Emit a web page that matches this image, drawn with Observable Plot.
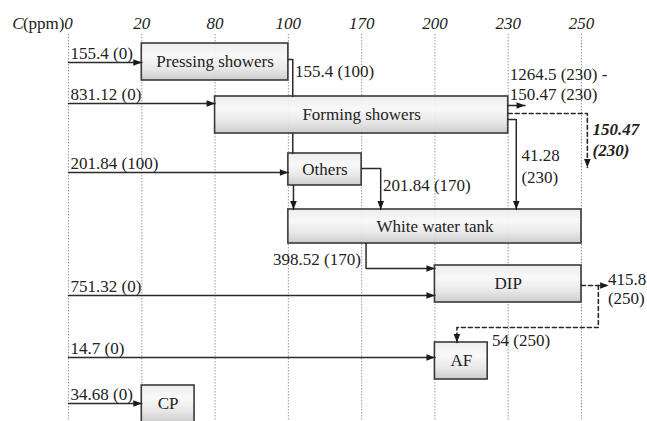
<!DOCTYPE html>
<html><head><meta charset="utf-8">
<script src="https://cdn.jsdelivr.net/npm/d3@7"></script>
<script src="https://cdn.jsdelivr.net/npm/@observablehq/plot@0.6"></script>
<style>
html,body{margin:0;padding:0;background:#fff;}
#chart svg{display:block;}
</style>
</head><body><div id="chart"></div>
<script>
// ---------------- data ----------------
const concTicks = [0, 20, 80, 100, 170, 200, 230, 250];
const unitNames = ["Pressing showers", "Forming showers", "Others", "White water tank", "DIP", "AF", "CP"];
const unitCin  = [20, 80, 100, 100, 200, 200, 20];
const unitCout = [100, 230, 170, 250, 250, null, null];
const freshFlow = [155.4, 831.12, 201.84, 751.32, 14.7, 34.68];
const freshConc = [0, 0, 100, 0, 0, 0];
const freshTarget = ["Pressing showers", "Forming showers", "Others", "DIP", "AF", "CP"];
const streamLabels = ["155.4 (100)", "201.84 (170)", "41.28\n(230)", "1264.5 (230) -\n150.47 (230)",
                      "150.47\n(230)", "398.52 (170)", "415.8\n(250)", "54 (250)"];

// ---------------- layout (diagram rows / offsets) ----------------
const ci = c => concTicks.indexOf(c);
const unitTop    = [43, 96, 153, 209, 265, 342, 385];
const unitBottom = [80, 133, 185, 243, 302, 379, 422];
const smallBoxWidth = 0.72;
const freshY = [62, 103, 172, 295, 357, 403];

const connectors = [
  {dash: false, arrow: false, pts: [[ci(100), 59], [ci(100) + 0.06, 59], [ci(100) + 0.06, 96]]},
  {dash: false, arrow: false, pts: [[ci(100) + 0.06, 133], [ci(100) + 0.06, 153]]},
  {dash: false, arrow: true,  pts: [[ci(100) + 0.07, 185], [ci(100) + 0.07, 209]]},
  {dash: false, arrow: true,  pts: [[ci(170), 168], [ci(170) + 0.26, 168], [ci(170) + 0.26, 209]]},
  {dash: false, arrow: true,  pts: [[ci(230), 119], [ci(230) + 0.11, 119], [ci(230) + 0.11, 209]]},
  {dash: false, arrow: true,  pts: [[ci(230), 105], [ci(230) + 0.23, 105]]},
  {dash: true,  arrow: true,  pts: [[ci(230), 113], [ci(250) + 0.08, 113], [ci(250) + 0.08, 167]]},
  {dash: false, arrow: true,  pts: [[ci(170) + 0.06, 243], [ci(170) + 0.06, 268], [ci(200), 268]]},
  {dash: true,  arrow: true,  pts: [[ci(250), 285], [ci(250) + 0.37, 285]]},
  {dash: true,  arrow: true,  pts: [[ci(250) + 0.23, 285], [ci(250) + 0.23, 327], [ci(200) + 0.3, 327], [ci(200) + 0.3, 342]]}
];
// fresh water inlets
freshConc.forEach((c, i) => {
  const u = unitNames.indexOf(freshTarget[i]);
  connectors.push({dash: false, arrow: true, pts: [[0, freshY[i]], [ci(unitCin[u]), freshY[i]]]});
});

const streamLabelPos = [
  {x: ci(100) + 0.09, y: 76,  anchor: "start", lh: 1},
  {x: ci(170) + 0.29, y: 190, anchor: "start", lh: 1},
  {x: ci(230) + 0.18, y: 182, anchor: "start", lh: 1.25},
  {x: ci(230) + 0.02, y: 99,  anchor: "start", lh: 1.16},
  {x: ci(250) + 0.15, y: 155, anchor: "start", lh: 1.2, bold: true},
  {x: ci(170) - 0.01, y: 264, anchor: "end",   lh: 1},
  {x: ci(250) + 0.36, y: 303, anchor: "start", lh: 1.08},
  {x: ci(200) + 0.78, y: 345, anchor: "start", lh: 1}
];

// ---------------- derived tables ----------------
const boxes = unitNames.map((name, i) => ({
  name,
  x1: ci(unitCin[i]),
  x2: unitCout[i] == null ? ci(unitCin[i]) + smallBoxWidth : ci(unitCout[i]),
  y1: unitTop[i], y2: unitBottom[i]
}));
const linePts = (dash) => connectors.flatMap((c, k) => c.dash === dash ? c.pts.map(([x, y]) => ({id: k, x, y})) : []);
const heads = connectors.filter(c => c.arrow).map(c => {
  const [a, b] = c.pts.slice(-2);
  const rot = b[1] > a[1] ? 90 : b[1] < a[1] ? -90 : b[0] > a[0] ? 0 : 180;
  return {x: b[0], y: b[1], rot};
});
const freshLabels = freshFlow.map((f, i) => ({
  text: `${f} (${freshConc[i]})`, y: freshY[i]
}));

const arrowSymbol = {draw(ctx) { ctx.moveTo(0, 0); ctx.lineTo(-8.5, -3.3); ctx.lineTo(-8.5, 3.3); ctx.closePath(); }};
const FONT = "'Liberation Serif', 'Times New Roman', serif";
const INK = "#222";

const defsMark = () => {
  const ns = "http://www.w3.org/2000/svg";
  const defs = document.createElementNS(ns, "defs");
  defs.innerHTML = `<linearGradient id="boxfill" x1="0" y1="0" x2="0" y2="1">
    <stop offset="0" stop-color="#ececec"/><stop offset="0.35" stop-color="#f8f8f8"/>
    <stop offset="0.7" stop-color="#e6e6e6"/><stop offset="1" stop-color="#c9c9c9"/></linearGradient>`;
  return defs;
};

const labelMarks = streamLabels.map((t, i) => {
  const p = streamLabelPos[i];
  return Plot.text([t], {
    x: () => p.x, y: () => p.y, text: d => d, textAnchor: p.anchor, lineAnchor: "bottom",
    lineHeight: p.lh, fontSize: 17, fill: INK, fontFamily: FONT,
    fontWeight: p.bold ? "bold" : "normal", fontStyle: p.bold ? "italic" : "normal"
  });
});

const chart = Plot.plot({
  width: 647, height: 421,
  marginLeft: 68, marginRight: 66, marginTop: 0, marginBottom: 0,
  style: {fontFamily: FONT, background: "#fff", color: INK},
  x: {domain: [0, concTicks.length - 1], axis: null},
  y: {domain: [0, 421], reverse: true, axis: null},
  marks: [
    defsMark,
    Plot.ruleX(concTicks, {x: (d, i) => i, y1: 34, y2: 421, stroke: "#9a9a9a", strokeWidth: 1, strokeDasharray: "1.5,1.5"}),
    Plot.rect(boxes, {x1: "x1", x2: "x2", y1: "y1", y2: "y2", fill: "url(#boxfill)", fillOpacity: 0.93, stroke: "#3a3a3a", strokeWidth: 1.6}),
    Plot.text(boxes, {x: d => (d.x1 + d.x2) / 2, y: d => (d.y1 + Math.min(d.y2, 421)) / 2, text: "name", fontSize: 17, fill: INK, fontFamily: FONT}),
    Plot.line(linePts(false), {x: "x", y: "y", z: "id", stroke: "#2a2a2a", strokeWidth: 1.5, curve: "linear"}),
    Plot.line(linePts(true), {x: "x", y: "y", z: "id", stroke: "#2a2a2a", strokeWidth: 1.6, strokeDasharray: "4,3", curve: "linear"}),
    Plot.dot(heads, {x: "x", y: "y", rotate: "rot", symbol: arrowSymbol, fill: "#1a1a1a", stroke: "none"}),
    Plot.text(freshLabels, {x: () => 0, y: "y", dx: 2, dy: -4, text: "text", textAnchor: "start", lineAnchor: "bottom", fontSize: 17, fill: INK, fontFamily: FONT}),
    ...labelMarks,
    Plot.text(concTicks, {x: (d, i) => i, y: () => 28, text: d => String(d), lineAnchor: "bottom", fontSize: 17, fontStyle: "italic", fill: INK, fontFamily: FONT}),
    Plot.text(["(ppm)"], {x: () => 0, y: () => 28, text: d => d, dx: -4, textAnchor: "end", lineAnchor: "bottom", fontSize: 17, fill: INK, fontFamily: FONT}),
    Plot.text(["C"], {x: () => 0, y: () => 28, text: d => d, dx: -45, textAnchor: "end", lineAnchor: "bottom", fontSize: 17, fontStyle: "italic", fill: INK, fontFamily: FONT})
  ]
});
document.getElementById("chart").appendChild(chart);
</script>
</body></html>
